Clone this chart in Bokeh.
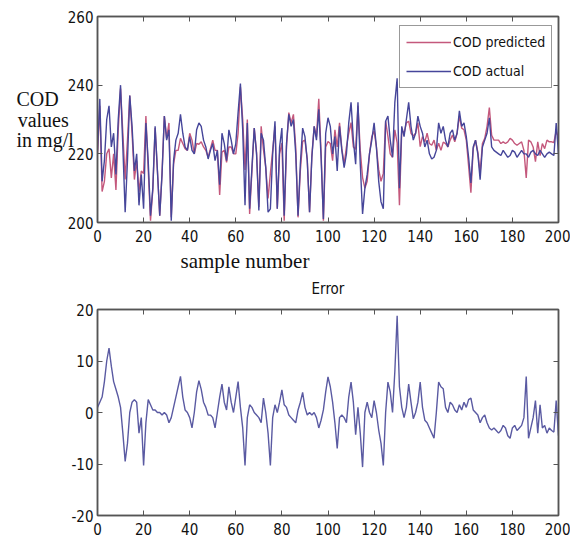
from bokeh.plotting import figure
from bokeh.models import LinearAxis, FixedTicker, Range1d, Legend, LegendItem, Title
from bokeh.layouts import column
from bokeh.embed import file_html
from bokeh.resources import INLINE

samples = list(range(201))

cod_actual = [
    221, 236, 212, 218, 230, 234, 222, 226, 214, 230,
    240, 222, 203, 218, 237, 228, 215, 220, 205, 214,
    204, 229, 218, 202, 210, 228, 215, 202, 214, 231,
    224, 227, 200.5, 218, 224, 226, 231.5, 226, 222, 221,
    225, 221, 220, 227, 229, 228, 224, 222, 218.5, 221,
    223, 218, 221, 211, 226, 223, 218, 227, 224, 220,
    223, 232, 240.5, 227, 205, 229, 204, 216, 227.5, 220,
    203.5, 226, 224, 216, 203, 204, 220, 229.5, 204, 222,
    227.5, 202, 223, 231.5, 228, 230, 220, 202, 217, 227.5,
    225, 218, 203, 219, 228, 224, 233, 219, 201, 226,
    230.5, 228, 220, 225, 215, 228, 221, 216, 220, 229,
    235, 224, 217, 235, 217, 202.5, 210, 214, 220, 224,
    229, 222, 212, 206, 204, 229.5, 231, 224, 219, 235,
    242, 210, 228, 225, 230, 235, 228, 224, 226, 231,
    228, 226, 222, 224, 220, 218.5, 219, 221, 229, 226,
    228, 224, 222, 226, 227, 224, 226, 232.5, 228, 229,
    225, 219, 211.5, 222, 224, 220, 212.5, 222, 224, 226,
    230.5, 222, 221, 220.5, 220, 219.5, 221, 220, 219, 219.5,
    221, 220.5, 219, 220, 221, 220, 220, 219, 220.5, 221,
    220, 219.5, 221, 220, 219, 220, 220.5, 220, 219.5, 229,
    220,
]

cod_predicted = [
    220, 234, 209, 212, 220, 221.5, 213, 220, 209.5, 227,
    239, 226, 212.5, 224, 237, 226, 212.5, 218, 209, 215,
    214.3, 231, 215.5, 200.5, 209.5, 227.5, 215, 202, 214.5, 231,
    224.5, 229, 201.5, 217, 221, 221, 224.5, 223, 221.5, 221,
    226, 224, 220, 223, 222.8, 223.5, 222, 221, 219, 221.5,
    224, 221, 221, 208, 220.5, 221, 217.5, 222, 222, 220,
    220, 226, 239.5, 230, 215.3, 230, 202.5, 215, 227.5, 220.5,
    204.5, 228, 221.2, 216, 207, 214.3, 221, 228, 204, 220,
    223.1, 200.5, 222, 232, 229, 231.5, 222, 201.5, 215, 223.6,
    224, 218.5, 203, 219.5, 228, 225, 236, 220.5, 200.5, 222,
    223.6, 223, 218, 227, 222, 229, 221.5, 217, 222, 226,
    229.1, 222, 221.3, 234, 221, 213.1, 210, 212, 220, 225,
    226.7, 222, 215.4, 212, 214.3, 229.5, 225.1, 220, 219, 227,
    223.2, 205, 227, 226, 229, 229.5, 226, 225.2, 226, 229,
    222.1, 225, 223.5, 226, 223, 222.5, 224, 221, 223.1, 221,
    223.4, 223, 222, 224, 225.5, 223.5, 226, 231, 227.5, 227,
    224, 216.5, 208.7, 221.5, 224, 220.5, 214.5, 223, 224.5, 228,
    233.5, 225.4, 224, 224, 224, 223, 223.5, 223, 223.5, 224.5,
    224, 223, 222.5, 223, 223.5, 221, 213, 224, 223.5, 222,
    217.7, 223.5, 219.5, 223, 221.5, 224, 223.5, 223.5, 223.3, 226.7,
    224.5,
]

error = [
    1, 2, 3, 6, 10, 12.5, 9, 6, 4.5, 3,
    1, -4, -9.5, -6, 0, 2, 2.5, 2, -4, -1,
    -10.3, -2, 2.5, 1.5, 0.5, 0.5, 0, 0, -0.5, 0,
    -0.5, -2, -1, 1, 3, 5, 7, 3, 0.5, 0,
    -1, -3, 0, 4, 6.2, 4.5, 2, 1, -0.5, -0.5,
    -1, -3, 0, 3, 5.5, 2, 0.5, 5, 2, 0,
    3, 6, 1, -3, -10.3, -1, 1.5, 1, 0, -0.5,
    -1, -2, 2.8, 0, -4, -10.3, -1, 1.5, 0, 2,
    4.4, 1.5, 1, -0.5, -1, -1.5, -2, 0.5, 2, 3.9,
    1, -0.5, 0, -0.5, 0, -1, -3, -1.5, 0.5, 4,
    6.9, 5, 2, -2, -7, -1, -0.5, -1, -2, 3,
    5.9, 2, -4.3, 1, -4, -10.6, 0, 2, 0, -1,
    2.3, 0, -3.4, -6, -10.3, 0, 5.9, 4, 0, 8,
    18.8, 5, 1, -1, 1, 5.5, 2, -1.2, 0, 2,
    5.9, 1, -1.5, -2, -3, -4, -5, 0, 5.9, 5,
    4.6, 1, 0, 2, 1.5, 0.5, 0, 1.5, 0.5, 2,
    1, 2.5, 2.8, 0.5, 0, -0.5, -2, -1, -0.5, -2,
    -3, -3.4, -3, -3.5, -4, -3.5, -2.5, -3, -4.5, -5,
    -3, -2.5, -3.5, -3, -2.5, -1, 7, -5, -3, -1,
    2.3, -4, 1.5, -3, -2.5, -4, -3, -3.5, -3.8, 2.3,
    -4.5,
]

x_ticks = [0, 20, 40, 60, 80, 100, 120, 140, 160, 180, 200]
cod_y_ticks = [200, 220, 240, 260]
err_y_ticks = [-20, -10, 0, 10, 20]
err_y_labels = ["-20", "-10", "0", "10", "20"]

TICK_FONT = "DejaVu Sans Condensed"
SERIF = "Liberation Serif"
AX = "#555555"
PRED_COLOR = "#c4587c"
ACT_COLOR = "#46469a"
ERR_COLOR = "#5a5aa2"
NB = "\u00a0"


def style_axes(p, xt, yt):
    for ax in (p.xaxis[0], p.yaxis[0]):
        ax.major_tick_in = 5
        ax.major_tick_out = 0
        ax.minor_tick_line_color = None
        ax.axis_line_color = AX
        ax.axis_line_width = 1.5
        ax.major_tick_line_color = AX
        ax.major_label_text_font = TICK_FONT
        ax.major_label_text_font_size = "15px"
        ax.major_label_text_color = "#111111"
    p.xaxis[0].major_label_standoff = 7
    p.yaxis[0].major_label_standoff = 4
    p.xaxis[0].ticker = FixedTicker(ticks=xt)
    p.yaxis[0].ticker = FixedTicker(ticks=yt)
    for loc, tk in (("above", xt), ("right", yt)):
        ax = LinearAxis(ticker=FixedTicker(ticks=tk), major_label_text_font_size="1px",
                        major_label_text_color=None, major_label_standoff=0,
                        major_tick_in=5, major_tick_out=0, minor_tick_line_color=None,
                        axis_line_color=AX, axis_line_width=1.5, major_tick_line_color=AX)
        p.add_layout(ax, loc)
    p.xgrid.visible = False
    p.ygrid.visible = False
    p.outline_line_color = AX
    p.outline_line_width = 1.5


p1 = figure(width=570, height=300, x_range=Range1d(0, 200), y_range=Range1d(200, 260),
            output_backend="svg", toolbar_location=None,
            min_border_left=97, min_border_right=12, min_border_top=16, min_border_bottom=78)
style_axes(p1, x_ticks, cod_y_ticks)

yax = p1.yaxis[0]
yax.axis_label = "COD" + NB * 3 + "\nvalues" + NB + "\nin mg/l"
yax.axis_label_orientation = "horizontal"
yax.axis_label_text_font = SERIF
yax.axis_label_text_font_size = "20px"
yax.axis_label_text_font_style = "normal"
yax.axis_label_text_color = "#111111"
yax.axis_label_text_line_height = 0.92
yax.axis_label_standoff = -9

r_pred = p1.line(samples, cod_predicted, line_color=PRED_COLOR, line_width=1.4)
r_act = p1.line(samples, cod_actual, line_color=ACT_COLOR, line_width=1.4)

legend = Legend(items=[LegendItem(label="COD predicted", renderers=[r_pred]),
                       LegendItem(label="COD actual", renderers=[r_act])],
                location=(302, 134), orientation="vertical",
                label_text_font=TICK_FONT, label_text_font_size="14px",
                label_text_color="#111111",
                glyph_width=45, glyph_height=20, label_height=20, label_standoff=2,
                spacing=9, padding=6, margin=0,
                border_line_color="#333333", border_line_width=1.5,
                background_fill_color="white", background_fill_alpha=1.0)
p1.add_layout(legend)

p1.add_layout(Title(text="sample number", align="left", offset=83, text_font=SERIF,
                    text_font_size="21px", text_font_style="normal",
                    text_color="#111111", standoff=5), "below")
p1.add_layout(Title(text="Error", align="center", text_font=TICK_FONT,
                    text_font_size="15px", text_font_style="normal",
                    text_color="#111111", standoff=5), "below")

p2 = figure(width=570, height=240, x_range=Range1d(0, 200), y_range=Range1d(-20, 20),
            output_backend="svg", toolbar_location=None,
            min_border_left=97, min_border_right=12, min_border_top=9, min_border_bottom=25)
style_axes(p2, x_ticks, err_y_ticks)
p2.yaxis[0].major_label_overrides = dict(zip(err_y_ticks, err_y_labels))
p2.line(samples, error, line_color=ERR_COLOR, line_width=1.4)

layout = column(p1, p2, spacing=0)

with open("out.html", "w") as f:
    f.write(file_html(layout, INLINE))
